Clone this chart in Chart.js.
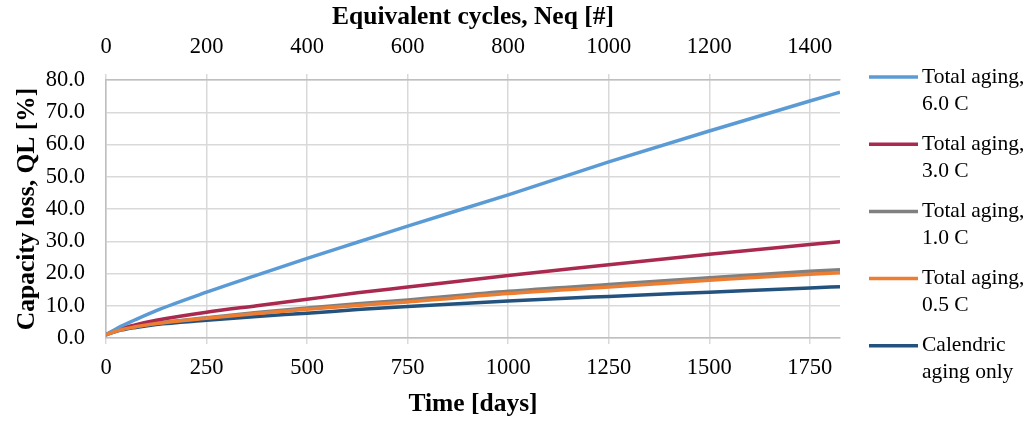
<!DOCTYPE html>
<html>
<head>
<meta charset="utf-8">
<script src="https://cdn.jsdelivr.net/npm/chart.js@4"></script>
<style>
  html, body { margin: 0; padding: 0; background: #fff; }
</style>
</head>
<body>
<canvas id="agingChart" width="1030" height="423"></canvas>
<script>
// time axis (days) and capacity loss QL [%]
const days = [0, 30, 70, 125, 250, 375, 500, 625, 750, 1000, 1250, 1500, 1750, 1825];
const aging6C = [1.0, 3.2, 5.5, 8.5, 14.2, 19.5, 24.7, 29.7, 34.7, 44.4, 54.6, 64.2, 73.5, 76.2];
const aging3C = [1.0, 2.6, 4.0, 5.5, 8.0, 10.0, 12.0, 14.0, 15.8, 19.4, 22.7, 26.0, 29.0, 29.9];
const aging1C = [1.0, 2.4, 3.5, 4.6, 6.3, 7.9, 9.3, 10.6, 11.8, 14.5, 16.6, 18.7, 20.7, 21.2];
const aging05C = [1.0, 2.3, 3.4, 4.5, 6.1, 7.6, 8.9, 10.1, 11.2, 13.8, 15.8, 17.9, 19.8, 20.2];
const calendric = [1.0, 2.2, 3.2, 4.2, 5.5, 6.7, 7.7, 8.8, 9.8, 11.5, 12.9, 14.2, 15.5, 15.9];

const seriesLabels = [
  ["Total aging,", "6.0 C"],
  ["Total aging,", "3.0 C"],
  ["Total aging,", "1.0 C"],
  ["Total aging,", "0.5 C"],
  ["Calendric", "aging only"],
];
const seriesValues = [aging6C, aging3C, aging1C, aging05C, calendric];
const seriesColors = ["#5B9BD5", "#A9294F", "#808080", "#ED7D31", "#24527E"];

const maxDays = 1825;
const maxCycles = 1460; // equivalent cycles at the end of the time axis

const serif = "'Liberation Serif', 'Times New Roman', serif";
const tickFont = { family: serif, size: 22.5 };
const titleFont = { family: serif, size: 25.5, weight: "bold" };

// legend drawn by hand so each entry can have two lines of text
const sideLegend = {
  id: "sideLegend",
  afterDraw(chart) {
    const ctx = chart.ctx;
    ctx.save();
    ctx.font = "21.5px " + serif;
    ctx.fillStyle = "#000";
    ctx.textBaseline = "middle";
    ctx.textAlign = "left";
    chart.data.datasets.forEach((ds, i) => {
      const y = 77 + i * 67.2;
      ctx.strokeStyle = ds.borderColor;
      ctx.lineWidth = 3.5;
      ctx.beginPath();
      ctx.moveTo(869, y);
      ctx.lineTo(918, y);
      ctx.stroke();
      ds.label.forEach((line, k) => ctx.fillText(line, 922, y + k * 27));
    });
    ctx.restore();
  },
};

const datasets = seriesLabels.map((label, i) => ({
  label: label,
  data: days.map((d, k) => ({ x: d, y: seriesValues[i][k] })),
  borderColor: seriesColors[i],
  borderWidth: 3.5,
  pointRadius: 0,
  cubicInterpolationMode: "monotone",
  fill: false,
  order: i === 3 ? 0 : 1,
  xAxisID: "x",
}));

const plain = (v) => String(v);

new Chart(document.getElementById("agingChart"), {
  type: "scatter",
  data: { datasets: datasets },
  options: {
    responsive: false,
    animation: false,
    showLine: true,
    layout: { padding: { left: 0, right: 190, top: 0, bottom: 0 } },
    plugins: {
      legend: { display: false },
      tooltip: { enabled: false },
    },
    scales: {
      x: {
        type: "linear",
        position: "bottom",
        min: 0,
        max: maxDays,
        ticks: { stepSize: 250, includeBounds: false, font: tickFont, color: "#000", padding: 11, maxRotation: 0, callback: plain },
        grid: { color: "#d9d9d9", lineWidth: 1.5, tickLength: 6 },
        border: { color: "#bfbfbf", width: 1.5 },
        title: { display: true, text: "Time [days]", font: titleFont, color: "#000", padding: { top: 0, bottom: 3 } },
        afterFit(s) { s.height = 85; },
      },
      x2: {
        type: "linear",
        position: "top",
        min: 0,
        max: maxCycles,
        ticks: { stepSize: 200, includeBounds: false, font: tickFont, color: "#000", padding: 13, maxRotation: 0, callback: plain },
        grid: { drawOnChartArea: false, color: "#d9d9d9", lineWidth: 1.5, tickLength: 6 },
        border: { color: "#bfbfbf", width: 1.5 },
        title: { display: true, text: "Equivalent cycles, Neq [#]", font: titleFont, color: "#000", padding: { top: 2, bottom: 0 } },
        afterFit(s) { s.height = 80; },
      },
      y: {
        type: "linear",
        position: "left",
        min: 0,
        max: 80,
        ticks: {
          stepSize: 10,
          font: tickFont,
          color: "#000",
          padding: 21,
          callback: (v) => v.toFixed(1),
        },
        grid: { color: "#d9d9d9", lineWidth: 1.5, drawTicks: false },
        border: { color: "#bfbfbf", width: 1.5 },
        title: { display: true, text: "Capacity loss, QL [%]", font: titleFont, color: "#000", padding: { top: 12, bottom: 0 } },
        afterFit(s) { s.width = 106; },
      },
    },
  },
  plugins: [sideLegend],
});
</script>
</body>
</html>
